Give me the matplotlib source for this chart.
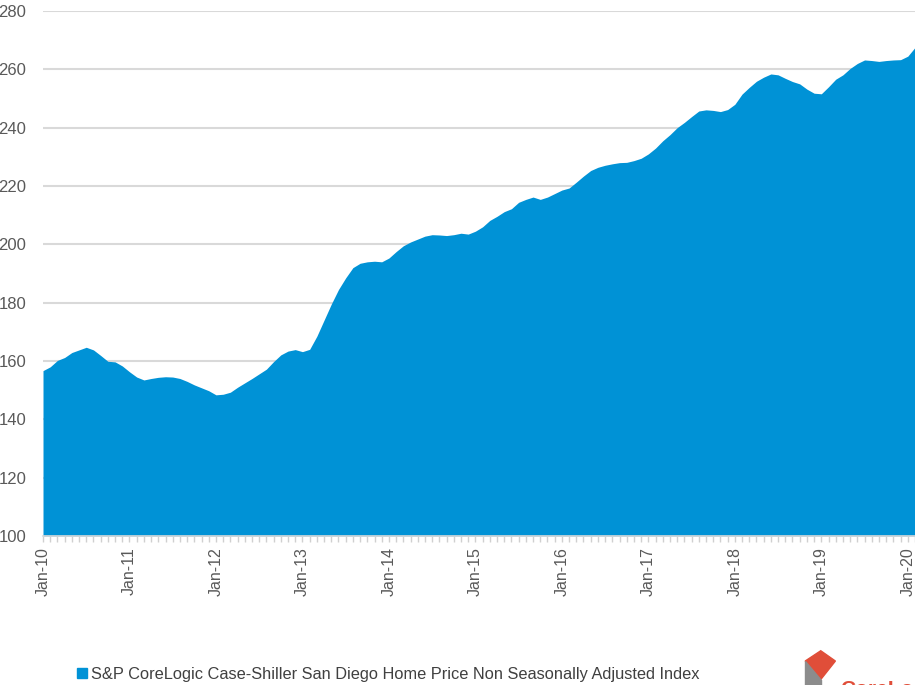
import matplotlib.pyplot as plt
import numpy as np
from matplotlib.patches import Patch, Polygon

# monthly index values, Jan-10 .. Feb-20
values = [
    156.7, 158.0, 160.2, 161.2, 162.9, 163.8, 164.7, 163.8, 161.9, 159.9, 159.7, 158.3,
    156.3, 154.5, 153.5, 154.0, 154.4, 154.6, 154.5, 154.0, 153.0, 151.8, 150.8, 149.8,
    148.4, 148.6, 149.3, 151.0, 152.5, 154.0, 155.6, 157.2, 159.8, 162.1, 163.4, 163.9,
    163.2, 164.0, 168.5, 174.0, 179.5, 184.5, 188.5, 192.0, 193.5, 194.0, 194.2, 194.0,
    195.3, 197.5, 199.5, 200.8, 201.8, 202.8, 203.3, 203.2, 203.0, 203.3, 203.8, 203.5,
    204.5, 206.0, 208.2, 209.6, 211.2, 212.2, 214.4, 215.4, 216.2, 215.4, 216.2, 217.4,
    218.6, 219.3, 221.3, 223.4, 225.3, 226.4, 227.1, 227.6, 228.0, 228.1, 228.7, 229.5,
    231.0, 233.0, 235.5, 237.6, 240.0, 241.8, 243.8, 245.7, 246.1, 245.9, 245.5, 246.2,
    248.0, 251.5, 253.8, 255.9, 257.3, 258.4, 258.1, 256.9, 255.8, 255.0, 253.2, 251.8,
    251.6, 254.0, 256.6, 258.1, 260.3, 262.0, 263.2, 263.0, 262.7, 263.0, 263.2, 263.3,
    264.5, 267.5,
]
tick_labels = ["Jan-10", "Jan-11", "Jan-12", "Jan-13", "Jan-14", "Jan-15",
               "Jan-16", "Jan-17", "Jan-18", "Jan-19", "Jan-20"]
series_name = "S&P CoreLogic Case-Shiller San Diego Home Price Non Seasonally Adjusted Index"

blue = "#0092d6"
months = np.arange(len(values))

plt.rcParams['font.family'] = ['Liberation Sans', 'DejaVu Sans']

fig = plt.figure(figsize=(9.15, 6.85), dpi=100)
ax = fig.add_axes([0.047, 0.2175, 0.953, 0.7665])

ax.fill_between(months, values, 100, color=blue, lw=0, zorder=2)

ax.set_ylim(100, 280)
ax.set_xlim(0, len(values) - 1)
ax.set_yticks(np.arange(100, 281, 20))
ax.yaxis.grid(True, color="#d9d9d9", lw=1.5, zorder=0)
ax.set_axisbelow(True)

ax.set_xticks(np.arange(0, len(values), 12))
ax.set_xticklabels(tick_labels, rotation=90)
ax.set_xticks(months, minor=True)

for s in ["left", "right", "top"]:
    ax.spines[s].set_visible(False)
ax.spines["bottom"].set_color("#d9d9d9")
ax.spines["bottom"].set_linewidth(1.2)

ax.tick_params(axis="y", length=0, pad=12, labelsize=12, labelcolor="#595959")
ax.tick_params(axis="x", which="both", length=4, color="#d0d0d0", width=1,
               labelsize=11.5, labelcolor="#595959", pad=4)

# legend
fig.legend(handles=[Patch(color=blue, label=series_name)], loc="lower left",
           bbox_to_anchor=(0.068, -0.017), frameon=False, fontsize=11.8,
           handlelength=0.6, handleheight=0.6, handletextpad=0.25,
           labelcolor="#404040")

# partial logo at bottom right
fig.patches.append(Polygon([(0.880, 0.035), (0.897, 0.05), (0.913, 0.035), (0.897, 0.008)],
                           closed=True, transform=fig.transFigure, color="#e04e39"))
fig.patches.append(Polygon([(0.880, 0.035), (0.880, -0.01), (0.897, -0.01), (0.897, 0.008)],
                           closed=True, transform=fig.transFigure, color="#8c8c8c"))
fig.text(0.918, -0.014, "CoreLogic", color="#e04e39", fontsize=15, fontweight="bold")

fig.savefig("out.png", dpi=100)
